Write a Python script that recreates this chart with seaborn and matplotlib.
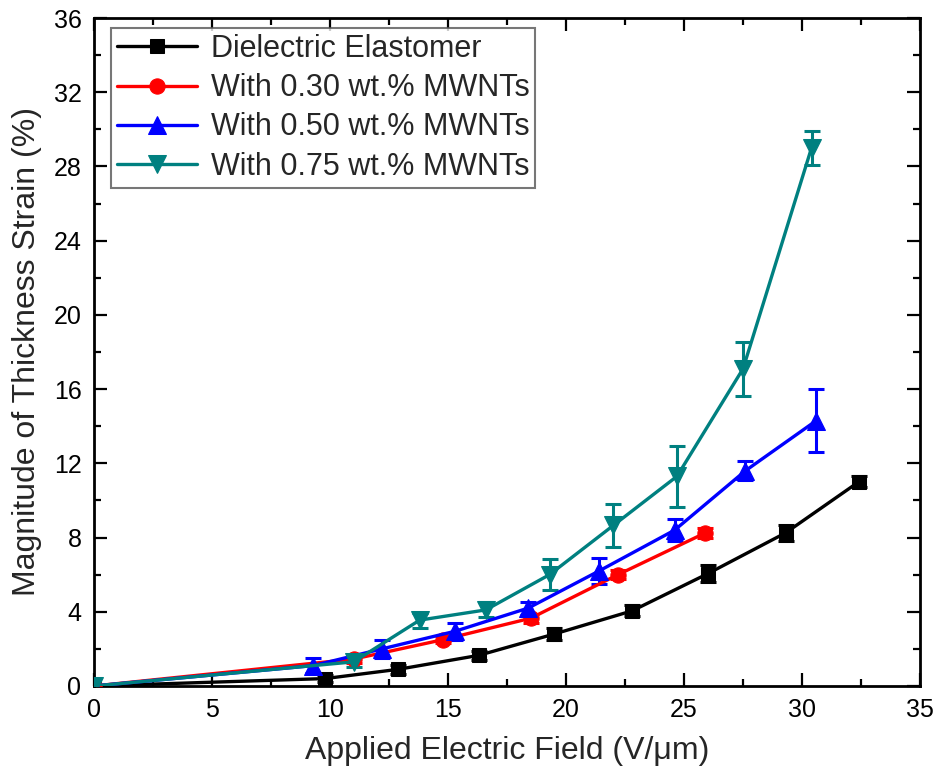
import numpy as np
import pandas as pd
import matplotlib
matplotlib.use("Agg")
import matplotlib.pyplot as plt
import seaborn as sns
from matplotlib.ticker import MultipleLocator

# Thickness strain vs applied field for each composition
field_de = [0, 9.8, 12.9, 16.3, 19.5, 22.8, 26.0, 29.3, 32.4]
strain_de = [0, 0.4, 0.9, 1.65, 2.8, 4.05, 6.05, 8.25, 11.0]
err_de = [0, 0.2, 0.25, 0.25, 0.3, 0.3, 0.45, 0.45, 0.3]

field_030 = [0, 11.0, 14.8, 18.5, 22.2, 25.9]
strain_030 = [0, 1.45, 2.5, 3.65, 6.0, 8.25]
err_030 = [0, 0.2, 0.2, 0.25, 0.25, 0.25]

field_050 = [0, 9.3, 12.2, 15.3, 18.4, 21.4, 24.6, 27.6, 30.6]
strain_050 = [0, 1.1, 2.0, 2.95, 4.2, 6.2, 8.4, 11.6, 14.3]
err_050 = [0, 0.4, 0.5, 0.45, 0.35, 0.7, 0.6, 0.5, 1.7]

field_075 = [0, 11.0, 13.8, 16.6, 19.3, 22.0, 24.7, 27.5, 30.4]
strain_075 = [0, 1.3, 3.55, 4.1, 6.0, 8.65, 11.3, 17.1, 29.0]
err_075 = [0, 0.3, 0.4, 0.4, 0.85, 1.15, 1.65, 1.45, 0.9]

labels = ["Dielectric Elastomer", "With 0.30 wt.% MWNTs",
          "With 0.50 wt.% MWNTs", "With 0.75 wt.% MWNTs"]

series = [
    (field_de, strain_de, err_de, "black", "s", 10),
    (field_030, strain_030, err_030, "#ff0000", "o", 11),
    (field_050, strain_050, err_050, "#0000ff", "^", 13),
    (field_075, strain_075, err_075, "#008080", "v", 13),
]

sns.set_style("ticks")
plt.rcParams["font.family"] = ["Liberation Sans", "DejaVu Sans"]

fig = plt.figure(figsize=(9.36, 7.83), dpi=100)
ax = fig.add_axes([0.1004, 0.1239, 0.8826, 0.8531])

for (x, y, e, c, m, ms), lab in zip(series, labels):
    df = pd.DataFrame({"field": x, "strain": y})
    ax.errorbar(x, y, yerr=e, fmt="none", ecolor=c, elinewidth=2.2,
                capsize=6, capthick=2.2, zorder=2)
    sns.lineplot(data=df, x="field", y="strain", ax=ax, color=c,
                 marker=m, markersize=ms, markeredgecolor=c,
                 linewidth=2.4, label=lab, zorder=3)

ax.set_xlim(0, 35)
ax.set_ylim(0, 36)
ax.xaxis.set_major_locator(MultipleLocator(5))
ax.xaxis.set_minor_locator(MultipleLocator(2.5))
ax.yaxis.set_major_locator(MultipleLocator(4))
ax.yaxis.set_minor_locator(MultipleLocator(2))
ax.tick_params(which="both", direction="in", top=True, right=True,
               width=1.6, labelsize=18, colors="black")
ax.tick_params(which="major", length=9.5, pad=9)
ax.tick_params(which="minor", length=5)
for s in ax.spines.values():
    s.set_linewidth(2.0)
    s.set_color("black")

ax.set_xlabel("Applied Electric Field (V/\u03bcm)", fontsize=23, labelpad=10)
ax.set_ylabel("Magnitude of Thickness Strain (%)", fontsize=23, labelpad=8)

leg = ax.legend(loc="upper left", bbox_to_anchor=(0.021, 0.985), fontsize=22,
                frameon=True, fancybox=False, edgecolor="#555555",
                handlelength=2.6, handletextpad=0.45, borderpad=0.2,
                labelspacing=0.3, borderaxespad=0)
leg.get_frame().set_linewidth(1.5)

fig.savefig("out.png", dpi=100, facecolor="white")
